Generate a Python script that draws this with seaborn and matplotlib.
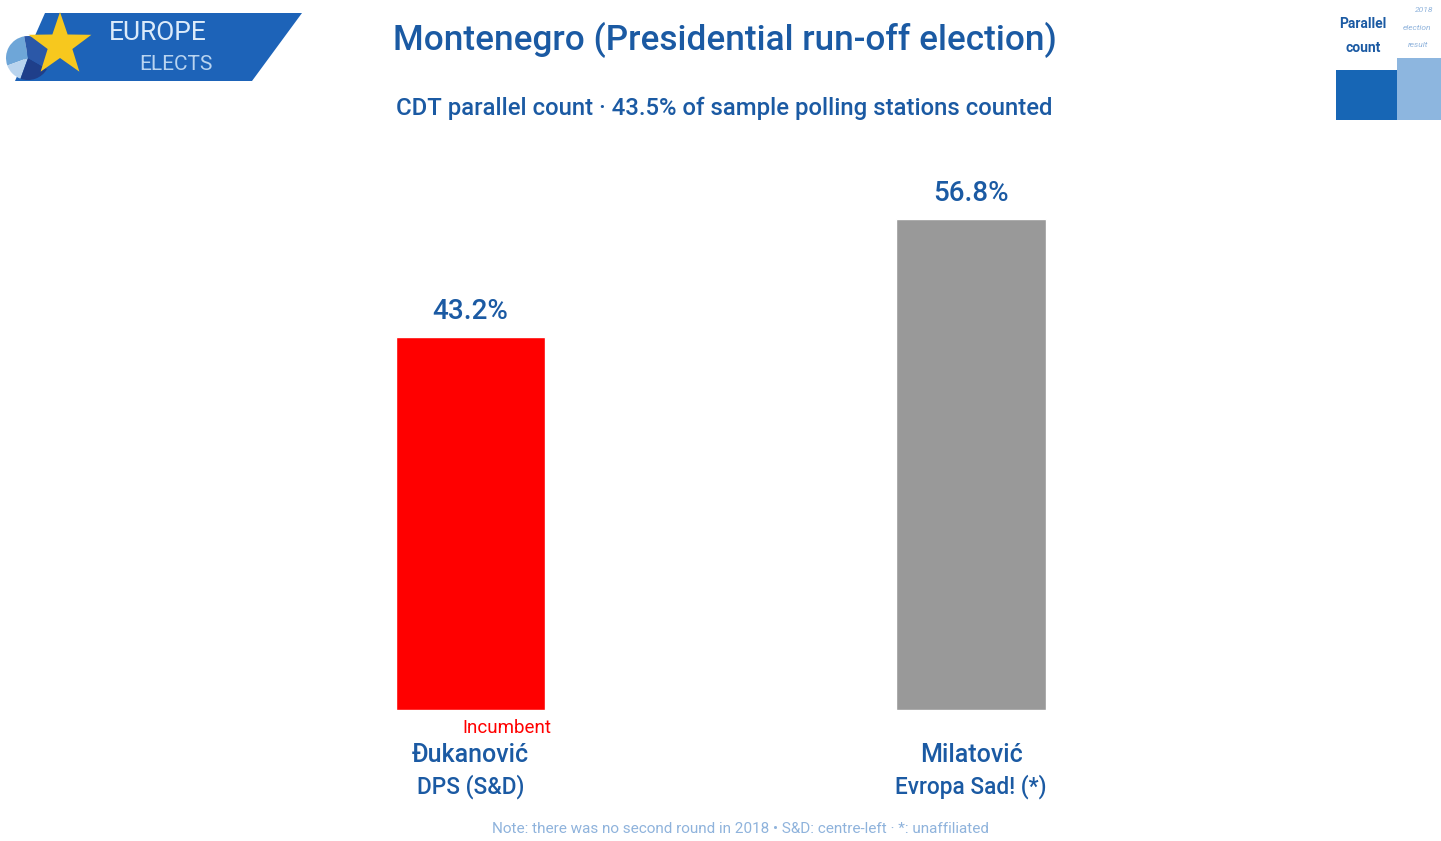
import matplotlib
matplotlib.use("Agg")
import matplotlib.pyplot as plt
import seaborn as sns
import pandas as pd
import numpy as np
from matplotlib.patches import Polygon, Rectangle, Wedge

# ---- data ----
candidates = ["Đukanović", "Milatović"]
parties = ["DPS (S&D)", "Evropa Sad! (*)"]
values = [43.2, 56.8]
value_labels = ["43.2%", "56.8%"]
notes = ["Incumbent", ""]
bar_colors = ["#ff0000", "#999999"]

title = "Montenegro (Presidential run-off election)"
subtitle = "CDT parallel count · 43.5% of sample polling stations counted"
footnote = "Note: there was no second round in 2018 • S&D: centre-left · *: unaffiliated"

# ---- style ----
sns.set_theme(style="white")
plt.rcParams["font.family"] = ["Roboto", "DejaVu Sans"]

W, H = 1441, 841
DARK = "#1b5aa3"
LIGHT = "#8fb3dc"

def fx(px):
    return px / W

def fy(py):
    return 1 - py / H

fig = plt.figure(figsize=(W / 100, H / 100), dpi=100)
fig.patch.set_facecolor("white")

ax = fig.add_axes([fx(220.25), (H - 710) / H, 1001 / W, 518.4 / H])
df = pd.DataFrame({"candidate": candidates, "value": values})
sns.barplot(data=df, x="candidate", y="value", hue="candidate",
            palette=bar_colors, width=0.298, legend=False, ax=ax,
            saturation=1)
ax.set_xlim(-0.5, 1.5)
ax.set_ylim(0, 60)
ax.axis("off")

for i, (v, lab) in enumerate(zip(values, value_labels)):
    ax.annotate(lab, (i, v), xytext=(0, 12), textcoords="offset pixels",
                ha="center", va="bottom", fontsize=20, fontweight="medium",
                color=DARK)

for i, (c, p, n) in enumerate(zip(candidates, parties, notes)):
    ax.annotate(c, (i, 0), xycoords=("data", "axes fraction"),
                xytext=(0, -45), textcoords="offset pixels",
                ha="center", va="center", fontsize=18, fontweight="medium",
                color=DARK)
    ax.annotate(p, (i, 0), xycoords=("data", "axes fraction"),
                xytext=(0, -77), textcoords="offset pixels",
                ha="center", va="center", fontsize=16.3, fontweight="medium",
                color=DARK)
    if n:
        ax.annotate(n, (i, 0), xycoords=("data", "axes fraction"),
                    xytext=(81, -18), textcoords="offset pixels",
                    ha="right", va="center", fontsize=13.5,
                    color="#ff0000")

# titles
fig.text(fx(725), fy(40), title, ha="center", va="center", fontsize=25.3,
         fontweight="medium", color=DARK)
fig.text(fx(724.5), fy(108), subtitle, ha="center", va="center",
         fontsize=17.2, fontweight="medium", color=DARK)
fig.text(fx(740), fy(829), footnote, ha="center", va="center",
         fontsize=11, color=LIGHT)

# ---- Europe Elects logo (pixel-coordinate overlay axes) ----
lg = fig.add_axes([0, fy(100), fx(310), 100 / H])
lg.set_xlim(0, 310)
lg.set_ylim(100, 0)
lg.axis("off")
lg.add_patch(Polygon([(45, 13), (302, 13), (252, 81), (15, 81)],
                     closed=True, facecolor="#1d63b8", edgecolor="none"))
cx, cy, r = 28, 58, 22
for t1, t2, col in [(100, 200, "#6ea6d8"), (200, 250, "#b9d4ee"),
                    (250, 330, "#1f3f8a"), (330, 460, "#2b58a8")]:
    lg.add_patch(Wedge((cx, cy), r, -t2, -t1, facecolor=col,
                       edgecolor="none"))
sx, sy, ro, ri = 60, 45, 33, 13
ang = np.deg2rad(90 + 36 * np.arange(10))
rad = np.where(np.arange(10) % 2 == 0, ro, ri)
lg.add_patch(Polygon([(sx + rr * np.cos(a), sy - rr * np.sin(a))
                      for rr, a in zip(rad, ang)], closed=True,
                     facecolor="#f7c81e", edgecolor="none"))
lg.text(158, 33, "EUROPE", ha="center", va="center", fontsize=19,
        color="#dcebfa")
lg.text(176, 64, "ELECTS", ha="center", va="center", fontsize=15,
        color="#b9d4f0")

# ---- top-right legend ----
fig.add_artist(Rectangle((fx(1336), fy(120)), 61 / W, 50 / H,
                         transform=fig.transFigure, facecolor="#1766b5",
                         edgecolor="none"))
fig.add_artist(Rectangle((fx(1397), fy(120)), 44 / W, 62 / H,
                         transform=fig.transFigure, facecolor="#8db6df",
                         edgecolor="none"))
fig.text(fx(1363), fy(24), "Parallel", ha="center", va="center",
         fontsize=10, fontweight="bold", color=DARK)
fig.text(fx(1363), fy(48), "count", ha="center", va="center",
         fontsize=10, fontweight="bold", color=DARK)
fig.text(fx(1424), fy(10), "2018", ha="center", va="center", fontsize=6,
         style="italic", color=LIGHT)
fig.text(fx(1403), fy(28), "election", ha="left", va="center", fontsize=6,
         style="italic", color=LIGHT)
fig.text(fx(1408), fy(45), "result", ha="left", va="center", fontsize=6,
         style="italic", color=LIGHT)

fig.savefig("out.png", dpi=100, facecolor="white")
